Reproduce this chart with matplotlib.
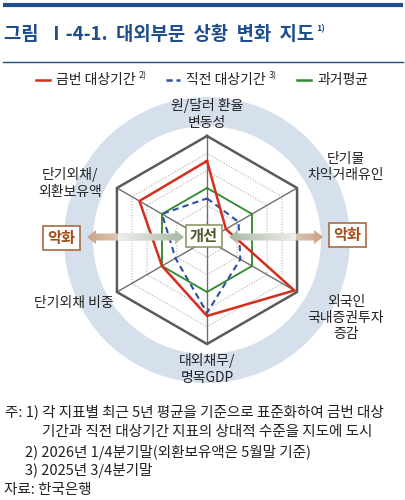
import numpy as np
import matplotlib
matplotlib.use("Agg")
import matplotlib.pyplot as plt
from matplotlib.patches import Wedge, Polygon, FancyBboxPatch
from matplotlib.colors import to_rgba

plt.rcParams['font.family'] = ['Noto Sans CJK KR', 'DejaVu Sans']

# ---- data (clockwise from top) ----
axis_labels = ['원/달러 환율\n변동성', '단기물\n차익거래유인', '외국인\n국내증권투자\n증감',
               '대외채무/\n명목GDP', '단기외채 비중', '단기외채/\n외환보유액']
current = [0.76, 0.21, 0.97, 0.73, 0.50, 0.75]   # 금번 대상기간
previous = [0.40, 0.35, 0.37, 0.70, 0.35, 0.50]  # 직전 대상기간
past_avg = [0.50, 0.50, 0.50, 0.50, 0.50, 0.50]  # 과거평균
grid_levels = [1/6, 2/6, 3/6, 4/6, 5/6]

W, H = 406, 500
CX, CY, R = 207, 240, 104
BLUE = '#1f4e8c'

fig = plt.figure(figsize=(W / 100, H / 100), dpi=100)
renderer = fig.canvas.get_renderer()

# background axes in pixel coords
bg = fig.add_axes([0, 0, 1, 1])
bg.set_xlim(0, W)
bg.set_ylim(H, 0)
bg.axis('off')


def text_right(t):
    # right edge of a text item, in pixel data coords
    bb = t.get_window_extent(renderer=renderer)
    return bb.x1


# header lines and title
bg.plot([3, 403], [5, 5], color=BLUE, lw=3, solid_capstyle='butt')
bg.plot([3, 403], [62, 62], color=BLUE, lw=1)
t = bg.text(4, 34, '그림  Ⅰ-4-1.  대외부문  상황  변화  지도', color=BLUE, fontsize=13.5,
            fontweight='bold', va='center', ha='left')
bg.text(text_right(t) + 2, 29, '1)', color=BLUE, fontsize=6.5, fontweight='bold', va='center')

# legend
leg = [('금번 대상기간', '2)', '#d42e1e', '-', 36),
       ('직전 대상기간', '3)', '#2f4f9f', (0, (2.5, 1.5)), 166),
       ('과거평균', '', '#2e8b2e', '-', 297)]
for name, sup, col, ls, x in leg:
    bg.plot([x, x + 14], [80, 80], color=col, lw=1.8, linestyle=ls)
    t = bg.text(x + 20, 80, name, fontsize=10, va='center', ha='left', color='#222222')
    if sup:
        bg.text(text_right(t) + 3, 76, sup, fontsize=6.5, va='center', ha='left', color='#222222')

# ring
bg.add_patch(Wedge((CX, CY), 143, 0, 360, width=29, facecolor='#d6e0ec', edgecolor='none'))

# axis labels
label_pos = [(207, 114), (346, 167), (346, 318), (207, 369), (74, 303), (70, 183)]
for lab, (x, y) in zip(axis_labels, label_pos):
    bg.text(x, y, lab, fontsize=10, ha='center', va='center', color='#222222',
            linespacing=1.2)

# notes
notes = [(5, 412, '주: 1) 각 지표별 최근 5년 평균을 기준으로 표준화하여 금번 대상'),
         (42, 432, '기간과 직전 대상기간 지표의 상대적 수준을 지도에 도시'),
         (25, 452, '2) 2026년 1/4분기말(외환보유액은 5월말 기준)'),
         (25, 471, '3) 2025년 3/4분기말'),
         (4, 490, '자료: 한국은행')]
for x, y, s in notes:
    bg.text(x, y, s, fontsize=10.5, ha='left', va='center', color='#222222')

# radar (polar axes)
pax = fig.add_axes([(CX - R) / W, (H - CY - R) / H, 2 * R / W, 2 * R / H], projection='polar')
pax.set_facecolor('none')
pax.set_theta_offset(np.pi / 2)
pax.set_theta_direction(-1)
pax.set_ylim(0, 1)
pax.grid(False)
pax.set_xticks([])
pax.set_yticks([])
pax.spines['polar'].set_visible(False)

angles = np.linspace(0, 2 * np.pi, len(axis_labels), endpoint=False)
closed = np.append(angles, angles[0])

for lv in grid_levels:
    pax.plot(closed, [lv] * len(closed), color='#b0b0b0', lw=0.8, linestyle=(0, (1, 1.5)))
for a in angles:
    pax.plot([a, a], [0, 1], color='#6e6e6e', lw=1.0, clip_on=False)
pax.plot(closed, [1] * len(closed), color='#5a5a5a', lw=1.8, clip_on=False)

pax.plot(closed, np.append(past_avg, past_avg[0]), color='#2e8b2e', lw=1.3, clip_on=False)
pax.plot(closed, np.append(previous, previous[0]), color='#2f4f9f', lw=1.5,
         linestyle=(0, (3, 2)), clip_on=False)
pax.plot(closed, np.append(current, current[0]), color='#d42e1e', lw=1.8, clip_on=False)

# overlay axes for arrows and boxes
ov = fig.add_axes([0, 0, 1, 1])
ov.set_xlim(0, W)
ov.set_ylim(H, 0)
ov.axis('off')
ov.patch.set_alpha(0)


def grad_arrow(ax, x0, x1, y, c0, c1, half=3.5, head=7, headlen=9):
    d = np.sign(x1 - x0)
    xb = x1 - d * headlen
    pts = [(x0, y - half), (xb, y - half), (xb, y - head), (x1, y),
           (xb, y + head), (xb, y + half), (x0, y + half)]
    poly = Polygon(pts, closed=True, facecolor='none', edgecolor='none')
    ax.add_patch(poly)
    t = np.linspace(0, 1, 256)[:, None]
    img = (1 - t) * np.array(to_rgba(c0)) + t * np.array(to_rgba(c1))
    img = img[None, :, :]
    if x1 < x0:
        img = img[:, ::-1, :]
    im = ax.imshow(img, extent=(min(x0, x1), max(x0, x1), y + head, y - head),
                   aspect='auto', interpolation='bilinear', zorder=3)
    im.set_clip_path(poly)


AY = 237
grad_arrow(ov, 150, 87, AY, '#f2ece6', '#c9a285')
grad_arrow(ov, 118, 184, AY, '#eef0ec', '#a9b7a2')
grad_arrow(ov, 264, 323, AY, '#f2ece6', '#c9a285')
grad_arrow(ov, 296, 229, AY, '#eef0ec', '#a9b7a2')
ov.set_xlim(0, W)
ov.set_ylim(H, 0)

# boxes
ov.add_patch(FancyBboxPatch((186, 225), 36, 22, boxstyle='square,pad=0',
                            facecolor='white', edgecolor='#8e9a68', lw=1.2, zorder=4))
ov.text(204, 236, '개선', fontsize=11, fontweight='bold', color='#4f5a2c',
        ha='center', va='center', zorder=5)
for x0, y0 in [(43, 226), (329, 223)]:
    ov.add_patch(FancyBboxPatch((x0, y0), 37, 24, boxstyle='square,pad=0',
                                facecolor='white', edgecolor='#a86a44', lw=1.2, zorder=4))
    ov.text(x0 + 18.5, y0 + 12, '악화', fontsize=11, fontweight='bold', color='#a3501c',
            ha='center', va='center', zorder=5)

fig.savefig('out.png', dpi=100)
